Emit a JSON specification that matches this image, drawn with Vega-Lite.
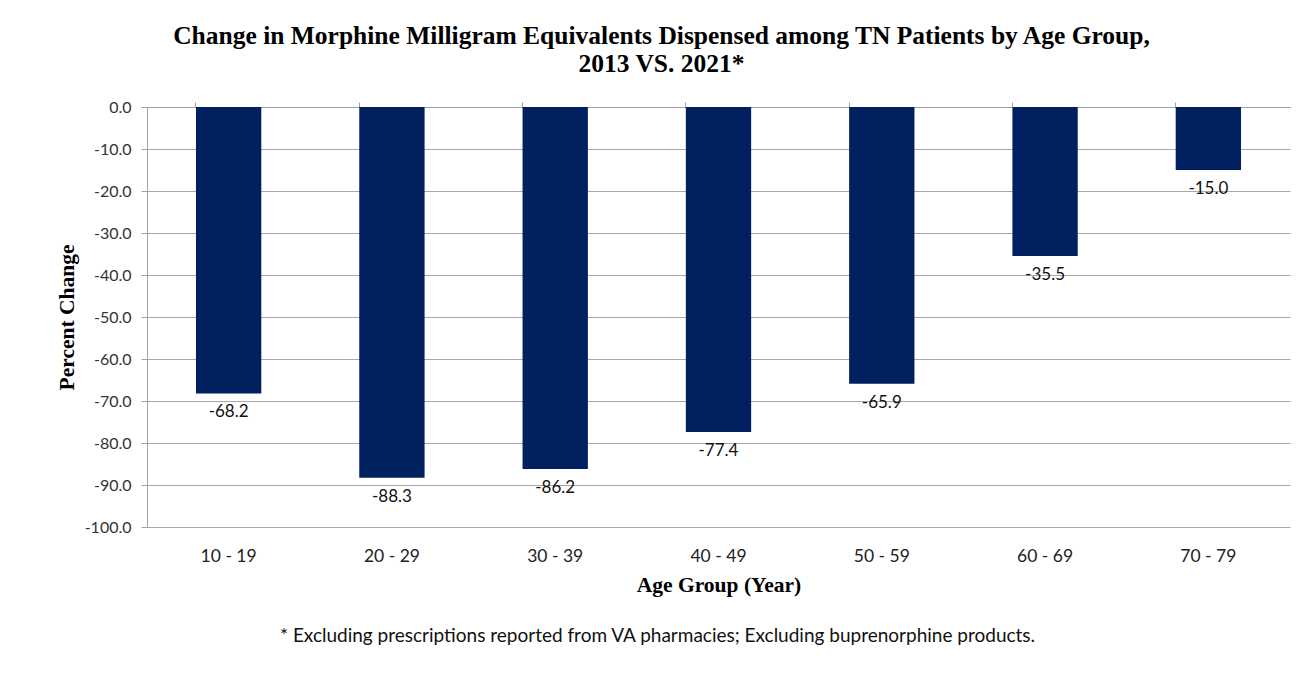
{
  "$schema": "https://vega.github.io/schema/vega-lite/v6.json",
  "width": 1143,
  "height": 420,
  "autosize": {"type": "none"},
  "padding": {"left": 147, "top": 107, "right": 24, "bottom": 151},
  "background": "white",
  "title": {
    "text": "* Excluding prescriptions reported from VA pharmacies; Excluding buprenorphine products.",
    "orient": "bottom",
    "anchor": "middle",
    "frame": "group",
    "dx": -61,
    "offset": 31,
    "font": "Lato",
    "fontSize": 19,
    "fontWeight": "normal",
    "color": "#111"
  },
  "data": {
    "values": [
      {"age": "10 - 19", "change": -68.2},
      {"age": "20 - 29", "change": -88.3},
      {"age": "30 - 39", "change": -86.2},
      {"age": "40 - 49", "change": -77.4},
      {"age": "50 - 59", "change": -65.9},
      {"age": "60 - 69", "change": -35.5},
      {"age": "70 - 79", "change": -15.0}
    ]
  },
  "resolve": {"axis": {"x": "independent"}},
  "layer": [
    {
      "mark": {"type": "bar", "color": "#002060"},
      "encoding": {
        "x": {
          "field": "age",
          "type": "nominal",
          "sort": null,
          "scale": {"paddingInner": 0.6, "paddingOuter": 0.3},
          "axis": {
            "orient": "bottom",
            "title": "Age Group (Year)",
            "labelAngle": 0,
            "domain": false,
            "ticks": false,
            "labelPadding": 20,
            "labelFont": "Lato",
            "labelFontSize": 17.5,
            "labelColor": "#222",
            "titleFont": "Liberation Serif",
            "titleFontSize": 21.5,
            "titleFontWeight": "bold",
            "titleColor": "#000",
            "titlePadding": 10
          }
        },
        "y": {
          "field": "change",
          "type": "quantitative",
          "scale": {"domain": [-100, 0], "nice": false},
          "axis": {
            "title": "Percent Change",
            "values": [0, -10, -20, -30, -40, -50, -60, -70, -80, -90, -100],
            "format": ".1f",
            "domainColor": "#a0a0a0",
            "tickColor": "#a0a0a0",
            "tickSize": 6,
            "gridColor": "#a8a8a8",
            "gridWidth": 1,
            "labelPadding": 10,
            "labelFont": "Lato",
            "labelFontSize": 16,
            "labelColor": "#333",
            "titleFont": "Liberation Serif",
            "titleFontSize": 21.5,
            "titleFontWeight": "bold",
            "titleColor": "#000",
            "titlePadding": 6
          }
        }
      }
    },
    {
      "mark": {"type": "text", "baseline": "top", "dy": 11, "font": "Lato", "fontSize": 17, "color": "#111"},
      "encoding": {
        "x": {
          "field": "age",
          "type": "nominal",
          "sort": null,
          "axis": {
            "orient": "top",
            "labels": false,
            "domain": true,
            "domainColor": "#a0a0a0",
            "ticks": true,
            "tickColor": "#a0a0a0",
            "tickSize": 5,
            "bandPosition": 0,
            "grid": false,
            "title": ["Change in Morphine Milligram Equivalents Dispensed among TN Patients by Age Group,", "2013 VS. 2021*"],
            "titleFont": "Liberation Serif",
            "titleFontSize": 25.5,
            "titleFontWeight": "bold",
            "titleColor": "#000",
            "titleLineHeight": 28,
            "titleX": 514,
            "titlePadding": 25
          }
        },
        "y": {"field": "change", "type": "quantitative"},
        "text": {"field": "change", "type": "quantitative", "format": ".1f"}
      }
    }
  ],
  "config": {
    "view": {"stroke": null},
    "locale": {
      "number": {"decimal": ".", "thousands": ",", "grouping": [3], "currency": ["$", ""], "minus": "-"}
    }
  }
}
